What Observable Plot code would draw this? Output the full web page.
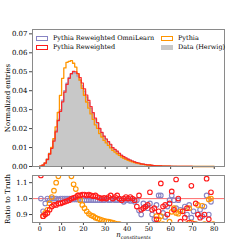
<!DOCTYPE html>
<html><head><meta charset="utf-8">
<script src="https://cdn.jsdelivr.net/npm/d3@7"></script>
<script src="https://cdn.jsdelivr.net/npm/@observablehq/plot@0.6"></script>
<style>
body{margin:0;background:#fff;}
#wrap{position:relative;width:249px;height:249px;font-family:"DejaVu Serif",serif;font-size:6.5px;color:#000;overflow:hidden;}
#wrap svg{display:block;}
.leg{position:absolute;display:flex;align-items:center;white-space:nowrap;font-size:6.5px;line-height:7px;}
.sw{width:10px;height:3px;margin-right:5px;box-sizing:content-box;}
#xl{position:absolute;left:0;width:249px;text-align:center;top:231px;font-size:7px;font-style:italic;padding-left:18px;box-sizing:border-box;}
#xl sub{font-size:4.8px;vertical-align:-1.5px;}
</style></head><body><div id="wrap"></div>
<script>
// bins: [n, n+1) for n = 0..79
const binLow = d3.range(0, 80);
const xTicks = [0, 10, 20, 30, 40, 50, 60, 70, 80];
const yTicksTop = [0, 0.01, 0.02, 0.03, 0.04, 0.05, 0.06, 0.07];
const yTicksRatio = [0.9, 1.0, 1.1];

// Data (Herwig), normalized entries per bin
const herwig = [
  0.0002, 0.0008, 0.002, 0.004, 0.007, 0.010, 0.014, 0.019, 0.025, 0.030,
  0.035, 0.040, 0.044, 0.047, 0.049, 0.050, 0.0495, 0.048, 0.046, 0.043,
  0.040, 0.037, 0.034, 0.031, 0.028, 0.025, 0.023, 0.020, 0.018, 0.016,
  0.0145, 0.013, 0.0115, 0.010, 0.009, 0.008, 0.007, 0.006, 0.0052, 0.0045,
  0.0039, 0.0034, 0.0029, 0.0025, 0.0021, 0.0018, 0.0015, 0.0013, 0.0011, 0.0009,
  0.00078, 0.00065, 0.00055, 0.00046, 0.00038, 0.00032, 0.00027, 0.00022, 0.00018, 0.00015,
  0.00012, 0.0001, 0.00008, 0.000065, 0.00005, 0.00004, 0.000033, 0.000027, 0.000022, 0.000018,
  0.000015, 0.000012, 0.00001, 0.000008, 0.000007, 0.000006, 0.000005, 0.000004, 0.000003, 0.000002
];

// Ratio to truth, read per bin
const ratioPythia = [
  0.70, 0.89, 0.91, 0.93, 0.97, 1.01, 1.05, 1.10, 1.14, 1.25,
  1.33, 1.30, 1.25, 1.18, 1.14, 1.09, 1.06, 1.02, 0.99, 0.96,
  0.94, 0.92, 0.905, 0.895, 0.89, 0.88, 0.875, 0.87, 0.865, 0.86,
  0.858, 0.855, 0.852, 0.85, 0.845, 0.84, 0.84, 0.835, 0.83, 0.83,
  0.83, 0.83, 0.83, 0.83, 0.83, 0.83, 0.83, 0.83, 0.83, 0.83,
  0.83, 0.83, 0.83, 0.89, 0.87, 0.89, 0.84, 0.82, 0.83, 0.855,
  0.917, 0.94, 0.91, 0.905, 0.92, 0.82, 0.83, 0.84, 0.94, 0.85,
  0.82, 0.84, 0.96, 0.80, 0.955, 0.84, 0.82, 0.995, 1.0, 0.84
];
const ratioReweighted = [
  1.145, 0.89, 0.90, 0.91, 0.93, 0.95, 0.96, 0.96, 0.97, 0.97,
  0.975, 0.98, 0.985, 0.99, 1.0, 1.005, 1.01, 1.02, 1.02, 1.025,
  1.025, 1.02, 1.025, 1.02, 1.015, 1.02, 1.01, 1.005, 1.0, 1.005,
  1.0, 1.01, 1.02, 1.0, 1.01, 1.02, 1.0, 0.99, 1.0, 1.01,
  1.0, 1.01, 1.0, 0.99, 0.95, 1.02, 0.93, 0.94, 0.95, 0.96,
  1.04, 0.93, 0.94, 0.87, 0.92, 1.095, 0.95, 0.96, 0.90, 0.97,
  1.045, 0.93, 1.12, 1.0, 0.855, 0.92, 0.88, 0.94, 0.85, 1.08,
  0.84, 0.97, 0.90, 0.88, 0.83, 0.90, 1.125, 0.87, 1.04, 0.80
];
const ratioOmni = [
  1.0, 0.92, 0.97, 1.0, 0.99, 1.0, 1.0, 1.0, 0.995, 1.0,
  1.0, 1.0, 1.0, 1.0, 0.995, 0.995, 0.995, 0.995, 0.99, 0.99,
  0.99, 0.99, 0.99, 0.99, 0.99, 0.99, 0.99, 0.99, 0.99, 0.99,
  0.995, 0.99, 0.99, 0.995, 0.99, 0.99, 0.995, 0.99, 0.98, 0.99,
  0.99, 0.985, 0.99, 0.98, 0.99, 0.925, 0.90, 0.97, 0.95, 0.94,
  0.97, 0.90, 0.87, 0.96, 1.02, 1.02, 0.91, 0.885, 0.95, 0.99,
  1.02, 0.99, 0.94, 0.99, 0.93, 0.83, 0.95, 0.90, 0.96, 0.88,
  0.92, 0.84, 0.90, 0.93, 0.89, 0.95, 1.02, 0.90, 0.98, 0.80
];

const legendItems = ["Pythia Reweighted OmniLearn", "Pythia Reweighted", "Pythia", "Data (Herwig)"];

const colOmni = "#8884c4", colRew = "#ff1a1a", colPy = "#ff9500", colData = "#c8c8c8";
const xDomain = [-3.35, 84.7];

function stepRows(vals) {
  const rows = binLow.map((b, i) => ({x: b, y: vals[i]}));
  rows.push({x: binLow[binLow.length - 1] + 1, y: vals[vals.length - 1]});
  return rows;
}
const pythia = herwig.map((v, i) => v * ratioPythia[i]);
const rew = herwig.map((v, i) => v * ratioReweighted[i]);
const omni = herwig.map((v, i) => v * ratioOmni[i]);

const font = {fontFamily: "DejaVu Serif", fontSize: "6.5px", background: "transparent", color: "#000", overflow: "visible"};

const topPlot = Plot.plot({
  width: 249, height: 172, marginTop: 29, marginBottom: 6, marginLeft: 32, marginRight: 25,
  style: font,
  x: {domain: xDomain},
  y: {domain: [0, 0.0723]},
  marks: [
    Plot.areaY(stepRows(herwig), {x: "x", y: "y", curve: "step-after", fill: colData}),
    Plot.line(stepRows(omni), {x: "x", y: "y", curve: "step-after", stroke: colOmni, strokeWidth: 1.3, strokeOpacity: 0.6}),
    Plot.line(stepRows(pythia), {x: "x", y: "y", curve: "step-after", stroke: colPy, strokeWidth: 1.3}),
    Plot.line(stepRows(rew), {x: "x", y: "y", curve: "step-after", stroke: colRew, strokeWidth: 1.2, strokeOpacity: 0.9}),
    Plot.axisX({ticks: xTicks, tickSize: 3, tickFormat: () => "", label: null, stroke: "#444"}),
    Plot.axisY({ticks: yTicksTop, tickSize: 3, tickPadding: 2, tickFormat: d3.format(".2f"), label: "Normalized entries", labelAnchor: "center", labelArrow: "none", labelOffset: 27, fontSize: 7, stroke: "#444"}),
    Plot.frame({stroke: "#8a8a8a"})
  ]
});

const ratioRowsOmni = binLow.map((b, i) => ({x: b + 0.5, y: ratioOmni[i]}));
const ratioRowsPy = binLow.map((b, i) => ({x: b + 0.5, y: ratioPythia[i]}));
const ratioRowsRew = binLow.map((b, i) => ({x: b + 0.5, y: ratioReweighted[i]}));

const ratioPlot = Plot.plot({
  width: 249, height: 77, marginTop: 3, marginBottom: 27, marginLeft: 32, marginRight: 25,
  style: font,
  x: {domain: xDomain},
  y: {domain: [0.85, 1.145]},
  marks: [
    Plot.ruleY([1], {stroke: "#ff5a5a", strokeWidth: 0.9}),
    Plot.dot(ratioRowsOmni, {x: "x", y: "y", r: 2.3, stroke: colOmni, strokeWidth: 1.1, clip: true}),
    Plot.dot(ratioRowsPy, {x: "x", y: "y", r: 2.3, stroke: colPy, strokeWidth: 1.1, clip: true}),
    Plot.dot(ratioRowsRew, {x: "x", y: "y", r: 2.3, stroke: colRew, strokeWidth: 1.1, clip: true}),
    Plot.axisX({ticks: xTicks, tickSize: 3, tickPadding: 1, label: null, stroke: "#444"}),
    Plot.axisY({ticks: yTicksRatio, tickSize: 3, tickPadding: 2, tickFormat: d3.format(".1f"), label: "Ratio to Truth", labelAnchor: "center", labelArrow: "none", labelOffset: 27, fontSize: 7, stroke: "#444"}),
    Plot.frame({stroke: "#8a8a8a"})
  ]
});

const wrap = document.getElementById("wrap");
wrap.appendChild(topPlot);
wrap.appendChild(ratioPlot);

// legend
const legendStyle = [
  {left: 36, top: 34.5, sw: `border:1px solid ${colOmni};`},
  {left: 36, top: 43.5, sw: `border:1px solid ${colRew};`},
  {left: 161, top: 34.5, sw: `border:1px solid ${colPy};`},
  {left: 161, top: 43.5, sw: `background:${colData};border:1px solid ${colData};`}
];
legendItems.forEach((t, i) => {
  const d = document.createElement("div");
  d.className = "leg";
  d.style.left = legendStyle[i].left + "px";
  d.style.top = legendStyle[i].top + "px";
  d.innerHTML = `<span class="sw" style="${legendStyle[i].sw}"></span><span>${t}</span>`;
  wrap.appendChild(d);
});
const xl = document.createElement("div");
xl.id = "xl";
xl.innerHTML = "n<sub>constituents</sub>";
wrap.appendChild(xl);
</script>
</body></html>
